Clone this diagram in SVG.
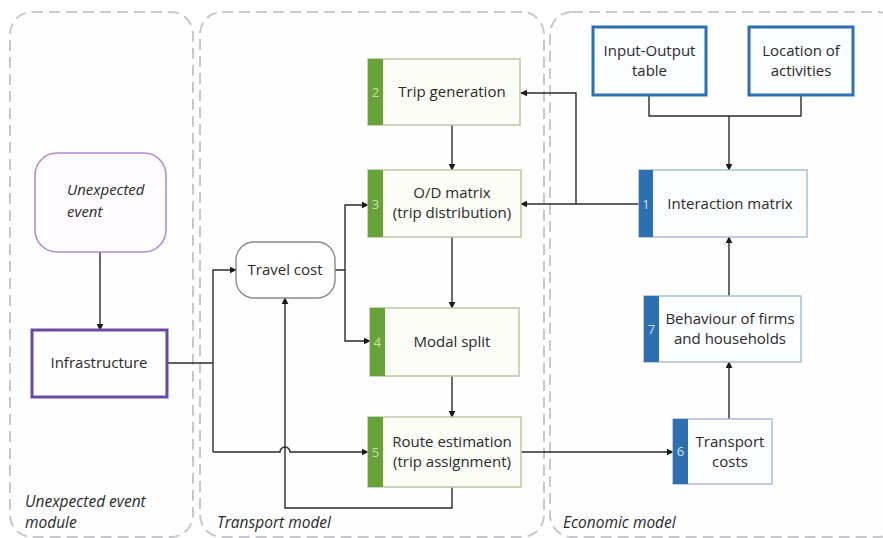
<svg xmlns="http://www.w3.org/2000/svg" width="883" height="538" viewBox="0 0 883 538">
<style>
text{font-family:"Open Sans","Liberation Sans",sans-serif;font-size:15px;fill:#2a2a2a;text-anchor:middle}
.it{font-style:italic;text-anchor:start;font-size:15.5px}
.num{font-size:13px}
.panel{fill:#fefefe;stroke:#c8c8cc;stroke-width:2;stroke-dasharray:11 6}
.g{fill:#fcfdf7;stroke:#b9c7a6;stroke-width:1.5}
.gb{fill:#68a33a}
.gn{fill:#c8e2a8}
.b{fill:#fcfdff;stroke:#a9bdd3;stroke-width:1.5}
.bt{fill:#fcfdff;stroke:#2e6fb0;stroke-width:3}
.bb{fill:#2e6fb0}
.bn{fill:#cfe0f3}
.c{fill:none;stroke:#2b2b2b;stroke-width:1.4}
</style>
<defs>
<marker id="ah" viewBox="0 0 10 10" refX="9" refY="5" markerWidth="7" markerHeight="7" orient="auto" markerUnits="userSpaceOnUse">
<path d="M0,0 L10,5 L0,10 z" fill="#1a1a1a"/>
</marker>
</defs>
<rect width="883" height="538" fill="#ffffff"/>
<g id="panels">
<rect class="panel" x="10" y="12" width="183" height="525" rx="22"/>
<rect class="panel" x="200" y="12" width="344" height="525" rx="22"/>
<rect class="panel" x="550" y="12" width="350" height="525" rx="22"/>
<text class="it" x="25" y="507">Unexpected event</text>
<text class="it" x="25" y="528">module</text>
<text class="it" x="217" y="528">Transport model</text>
<text class="it" x="563" y="528">Economic model</text>
</g>
<g id="connectors">
<path class="c" d="M100,252 V330" marker-end="url(#ah)"/>
<path class="c" d="M167,363 H213"/>
<path class="c" d="M213,452 V270 H236" marker-end="url(#ah)"/>
<path class="c" d="M213,452 H280 A5,5 0 0 1 290,452 H368" marker-end="url(#ah)"/>
<path class="c" d="M452,487 V508 H285 V298" marker-end="url(#ah)"/>
<path class="c" d="M335,270 H345 V205 H368" marker-end="url(#ah)"/>
<path class="c" d="M345,270 V341 H370" marker-end="url(#ah)"/>
<path class="c" d="M452,125 V170" marker-end="url(#ah)"/>
<path class="c" d="M452,237 V308" marker-end="url(#ah)"/>
<path class="c" d="M452,376 V417" marker-end="url(#ah)"/>
<path class="c" d="M521,452 H673" marker-end="url(#ah)"/>
<path class="c" d="M639,204 H521" marker-end="url(#ah)"/>
<path class="c" d="M576,204 V93 H521" marker-end="url(#ah)"/>
<path class="c" d="M649,96 V116 H801 V96"/>
<path class="c" d="M729,116 V170" marker-end="url(#ah)"/>
<path class="c" d="M729,296 V237" marker-end="url(#ah)"/>
<path class="c" d="M729,419 V362" marker-end="url(#ah)"/>
</g>
<g id="unexpected-event">
<rect x="35" y="153" width="131" height="99" rx="22" fill="#fefcff" stroke="#b48bcc" stroke-width="1.6"/>
<text class="it" x="67" y="195" style="font-size:15px">Unexpected</text>
<text class="it" x="67" y="217" style="font-size:15px">event</text>
</g>
<g id="infrastructure">
<rect x="32" y="330" width="135" height="67" fill="#fefdff" stroke="#6a4a9e" stroke-width="3"/>
<text x="99" y="368">Infrastructure</text>
</g>
<g id="travel-cost">
<rect x="236" y="242" width="99" height="56" rx="18" fill="#ffffff" stroke="#8a8a8a" stroke-width="1.4"/>
<text x="285" y="275">Travel cost</text>
</g>
<g id="trip-generation">
<rect class="g" x="368" y="59" width="152" height="66"/>
<rect class="gb" x="368" y="59" width="15" height="66"/>
<text class="num gn" x="375.5" y="97">2</text>
<text x="452" y="97">Trip generation</text>
</g>
<g id="od-matrix">
<rect class="g" x="368" y="170" width="153" height="67"/>
<rect class="gb" x="368" y="170" width="15" height="67"/>
<text class="num gn" x="375.5" y="209">3</text>
<text x="452" y="198">O/D matrix</text>
<text x="452" y="218">(trip distribution)</text>
</g>
<g id="modal-split">
<rect class="g" x="370" y="308" width="149" height="68"/>
<rect class="gb" x="370" y="308" width="15" height="68"/>
<text class="num gn" x="377.5" y="347">4</text>
<text x="452" y="347">Modal split</text>
</g>
<g id="route-estimation">
<rect class="g" x="368" y="417" width="153" height="70"/>
<rect class="gb" x="368" y="417" width="15" height="70"/>
<text class="num gn" x="375.5" y="457">5</text>
<text x="452" y="447">Route estimation</text>
<text x="452" y="467">(trip assignment)</text>
</g>
<g id="input-output">
<rect class="bt" x="593" y="27" width="113" height="68"/>
<text x="649.5" y="56">Input-Output</text>
<text x="649.5" y="76">table</text>
</g>
<g id="location">
<rect class="bt" x="749" y="27" width="104" height="68"/>
<text x="801" y="56">Location of</text>
<text x="801" y="76">activities</text>
</g>
<g id="interaction-matrix">
<rect class="b" x="639" y="170" width="168" height="67"/>
<rect class="bb" x="639" y="170" width="14" height="67"/>
<text class="num bn" x="646" y="209">1</text>
<text x="730" y="209">Interaction matrix</text>
</g>
<g id="behaviour">
<rect class="b" x="644" y="296" width="157" height="66"/>
<rect class="bb" x="644" y="296" width="15" height="66"/>
<text class="num bn" x="651.5" y="334">7</text>
<text x="730" y="324">Behaviour of firms</text>
<text x="730" y="344">and households</text>
</g>
<g id="transport-costs">
<rect class="b" x="673" y="419" width="99" height="65"/>
<rect class="bb" x="673" y="419" width="15" height="65"/>
<text class="num bn" x="680.5" y="456">6</text>
<text x="730" y="447">Transport</text>
<text x="730" y="467">costs</text>
</g>
</svg>
